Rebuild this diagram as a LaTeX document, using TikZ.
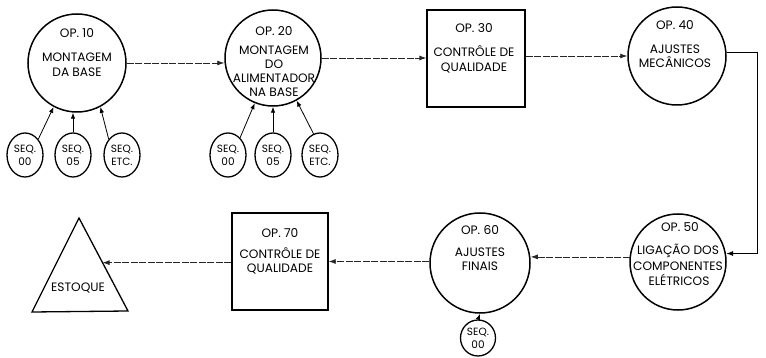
\documentclass[tikz,border=0pt]{standalone}
\usepackage{fontspec}
\setmainfont{Poppins}
\usetikzlibrary{arrows.meta,shapes.geometric,calc}
\begin{document}
\begin{tikzpicture}[x=1pt,y=-1pt,
  bigop/.style={circle,draw,line width=1.5pt,inner sep=0pt,minimum size=98pt},
  seq/.style={ellipse,draw,line width=1.3pt,inner sep=0pt,minimum width=36pt,minimum height=44pt,align=center,font=\fontsize{10.5}{13}\selectfont},
  opbox/.style={draw,line width=1.3pt,inner sep=0pt,minimum width=98pt,minimum height=97pt},
  lbl/.style={inner sep=0pt,font=\fontsize{12.2}{14}\selectfont,text height=8.5pt,text depth=0pt},
  flow/.style={-{Latex[length=7pt,width=5pt]},line width=0.8pt,black!85,dash pattern=on 7pt off 1.5pt},
  link/.style={-{Latex[length=7pt,width=5pt]},line width=1.1pt},
  feed/.style={-{Latex[length=6pt,width=4.5pt]},line width=0.8pt}
]
\path[use as bounding box] (0,0) rectangle (766,358);

% OP 10
\node[bigop] (op10) at (77,63) {};
\node[lbl] (t10a) at (77,33) {OP. 10};
\node[lbl] (t10b) at (77,57) {MONTAGEM};
\node[lbl] (t10c) at (77,72) {DA BASE};
\node[seq] (s1) at (25,155) {SEQ.\\00};
\node[seq] (s2) at (73,155) {SEQ.\\05};
\node[seq] (s3) at (122,155) {SEQ.\\ETC.};

% OP 20
\node[bigop,minimum size=96pt] (op20) at (273,58) {};
\node[lbl] (t20a) at (274,31) {OP. 20};
\node[lbl] (t20b) at (274,50) {MONTAGEM};
\node[lbl] (t20c) at (274,64) {DO};
\node[lbl] (t20d) at (274,78) {ALIMENTADOR};
\node[lbl] (t20e) at (274,92) {NA BASE};
\node[seq] (s4) at (228,155) {SEQ.\\00};
\node[seq] (s5) at (273,155) {SEQ.\\05};
\node[seq] (s6) at (320,155) {SEQ.\\ETC.};

% OP 30
\node[opbox] (op30) at (476,58.5) {};
\node[lbl] (t30a) at (474,28) {OP. 30};
\node[lbl] (t30b) at (474,52) {CONTRÔLE DE};
\node[lbl] (t30c) at (474,67) {QUALIDADE};

% OP 40
\node[bigop] (op40) at (677,56) {};
\node[lbl] (t40a) at (675,25) {OP. 40};
\node[lbl] (t40b) at (675,49) {AJUSTES};
\node[lbl] (t40c) at (675,63) {MECÂNICOS};

% OP 50
\node[bigop,minimum size=96pt] (op50) at (678,262) {};
\node[lbl] (t50a) at (680,227) {OP. 50};
\node[lbl] (t50b) at (678,250) {LIGAÇÃO DOS};
\node[lbl] (t50c) at (678,266) {COMPONENTES};
\node[lbl] (t50d) at (679,281) {ELÉTRICOS};

% OP 60
\node[bigop,minimum size=100pt] (op60) at (480,263) {};
\node[lbl] (t60a) at (480,230) {OP. 60};
\node[lbl] (t60b) at (480,252) {AJUSTES};
\node[lbl] (t60c) at (480,266) {FINAIS};
\node[seq,minimum width=35pt,minimum height=36pt] (s7) at (478,338) {SEQ.\\00};

% OP 70
\node[opbox,minimum width=96pt] (op70) at (280,261.5) {};
\node[lbl] (t70a) at (280,233) {OP. 70};
\node[lbl] (t70b) at (280,254) {CONTRÔLE DE};
\node[lbl] (t70c) at (280,268) {QUALIDADE};

% ESTOQUE
\coordinate (apex) at (79,218);
\coordinate (bl) at (32,312);
\coordinate (br) at (128,311);
\draw[line width=1.3pt,line join=miter] (apex) -- (br) -- (bl) -- cycle;
\node[lbl] (est) at (78,287) {ESTOQUE};
\coordinate (stk) at ($(apex)!0.48!(br)$);

% flow connectors
\draw[flow] (op10.east) -- (op10.east -| op20.west);
\draw[flow] (op20.east) -- (op20.east -| op30.west);
\draw[flow] (op40.west -| op30.east) -- (op40.west);
\draw[link] (op40.4) -- ++(31,0) |- (op50.10);
\draw[flow] (op50.174) -- (op50.174 -| op60.east);
\draw[flow] (op70.east -| op60.west) -- (op70.east);
\draw[flow] (stk -| op70.west) -- (stk);

% feeds
\draw[feed] (s1.50) -- (op10.242);
\draw[feed] (s2.north) -- (s2.north |- op10.south);
\draw[feed] (s3.130) -- (op10.298);
\draw[feed] (s4.55) -- (op20.248);
\draw[feed] (s5.north) -- (s5.north |- op20.south);
\draw[feed] (s6.107) -- (op20.299);
\draw[feed] (s7.north) -- (op60.south);
\end{tikzpicture}
\end{document}
